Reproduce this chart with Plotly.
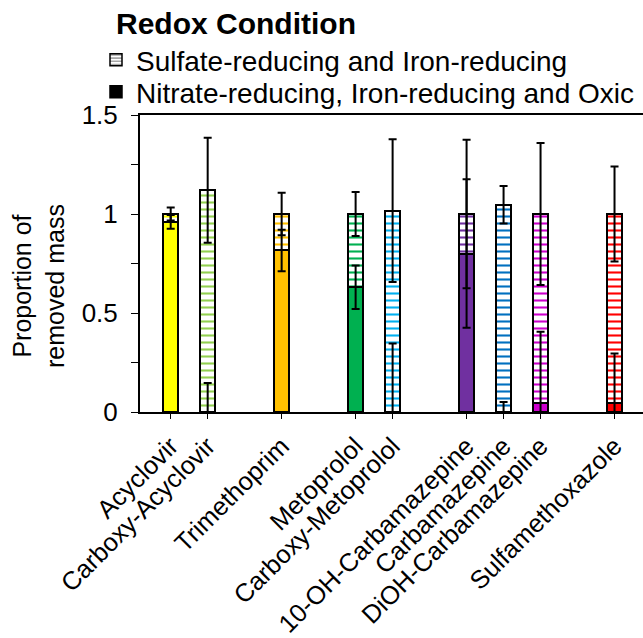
import numpy as np
import plotly.graph_objects as go

# ---- data ----
groups = [
    ["Acyclovir", "Carboxy-Acyclovir"],
    ["Trimethoprim"],
    ["Metoprolol", "Carboxy-Metoprolol"],
    ["10-OH-Carbamazepine", "Carbamazepine", "DiOH-Carbamazepine"],
    ["Sulfamethoxazole"],
]
compounds = [c for g in groups for c in g]

bar_colors = ["#FFFF00", "#92D050", "#FFC000", "#00B050", "#00B0F0",
              "#7030A0", "#0070C0", "#CC00CC", "#FF0000"]

# Nitrate-reducing, Iron-reducing and Oxic (solid, bottom)
nitrate_vals = [0.96, 0.0, 0.816, 0.63, 0.0, 0.80, 0.0, 0.045, 0.045]
nitrate_err = [0.035, 0.147, 0.105, 0.11, 0.346, 0.375, 0.05, 0.36, 0.25]

# Sulfate-reducing and Iron-reducing (hatched, top)
sulfate_vals = [0.04, 1.12, 0.184, 0.37, 1.017, 0.20, 1.047, 0.955, 0.955]
sulfate_err = [0.033, 0.265, 0.107, 0.111, 0.36, 0.375, 0.095, 0.358, 0.24]

y_ticks = [0, 0.5, 1, 1.5]
y_tick_text = ["0", "0.5", "1", "1.5"]

# category slots: one empty slot between groups
xpos = []
slot = 0
for g in groups:
    for _ in g:
        xpos.append(slot)
        slot += 1
    slot += 1

font_family = "Liberation Sans, Arial, sans-serif"

fig = go.Figure()

fig.add_trace(go.Bar(
    x=xpos, y=nitrate_vals, name="Nitrate-reducing, Iron-reducing and Oxic",
    marker=dict(color=bar_colors, line=dict(color="black", width=2)),
    showlegend=False,
))
fig.add_trace(go.Bar(
    x=xpos, y=sulfate_vals, name="Sulfate-reducing and Iron-reducing",
    marker=dict(color="white", line=dict(color="black", width=2),
                pattern=dict(shape="-", fgcolor=bar_colors, bgcolor="white",
                             size=7, solidity=0.3, fillmode="replace")),
    showlegend=False,
))

# error bars at the top of each stacked segment
tops_nitrate = np.array(nitrate_vals)
tops_total = np.array(nitrate_vals) + np.array(sulfate_vals)
for tops, err in [(tops_nitrate, nitrate_err), (tops_total, sulfate_err)]:
    fig.add_trace(go.Scatter(
        x=xpos, y=tops, mode="markers",
        marker=dict(size=1, color="rgba(0,0,0,0)"),
        error_y=dict(type="data", array=err, symmetric=True,
                     color="black", thickness=2, width=4),
        showlegend=False, hoverinfo="skip",
    ))

# legend entries
fig.add_trace(go.Bar(
    x=[None], y=[None], name="Sulfate-reducing and Iron-reducing",
    marker=dict(color="white", line=dict(color="black", width=1.5),
                pattern=dict(shape="-", fgcolor="black", bgcolor="white",
                             size=4, solidity=0.35)),
    legend="legend",
))
fig.add_trace(go.Bar(
    x=[None], y=[None], name="Nitrate-reducing, Iron-reducing and Oxic",
    marker=dict(color="black", line=dict(color="black", width=1.5)),
    legend="legend2",
))

leg_x = (96 - 140) / 503
fig.update_layout(
    barmode="stack",
    bargap=0.6,
    width=643, height=638,
    margin=dict(l=140, r=0, t=115, b=226, autoexpand=False),
    paper_bgcolor="white", plot_bgcolor="white",
    font=dict(family=font_family, size=25, color="black"),
    legend=dict(
        x=leg_x, xanchor="left", y=1 + (115 - 60) / 297, yanchor="middle",
        font=dict(size=28), bgcolor="rgba(0,0,0,0)",
        itemwidth=30, traceorder="normal",
    ),
    legend2=dict(
        x=leg_x, xanchor="left", y=1 + (115 - 92) / 297, yanchor="middle",
        font=dict(size=28), bgcolor="rgba(0,0,0,0)",
        itemwidth=30,
    ),
    showlegend=True,
)

fig.update_xaxes(
    range=[-0.83, 12.77],
    tickvals=xpos, ticktext=compounds, tickangle=-45,
    tickfont=dict(size=25.5),
    ticklabelstandoff=2,
    automargin=False,
    showline=True, linecolor="black", linewidth=2, mirror=True,
    ticks="outside", ticklen=5, tickcolor="black", tickwidth=1,
    showgrid=False, zeroline=False,
)
fig.update_yaxes(
    range=[0, 1.5],
    tickvals=y_ticks, ticktext=y_tick_text, tickfont=dict(size=26),
    automargin=False,
    showline=True, linecolor="black", linewidth=2,
    ticks="outside", ticklen=7, tickcolor="black", tickwidth=1,
    minor=dict(dtick=0.25, ticks="outside", ticklen=7, tickcolor="black", tickwidth=1),
    ticklabelstandoff=8,
    showgrid=False, zeroline=False,
)

# legend heading
fig.add_annotation(
    text="<b>Redox Condition</b>",
    xref="paper", yref="paper", x=(114 - 140) / 503, y=1 + (115 - 24) / 297,
    xanchor="left", yanchor="middle", showarrow=False,
    font=dict(size=30),
)

fig.add_annotation(
    text="Proportion of<br>removed mass", textangle=-90,
    xref="paper", yref="paper", x=(38 - 140) / 503, y=(412 - 286) / 297,
    xanchor="center", yanchor="middle", showarrow=False,
    font=dict(size=25),
)

fig.write_html("out.html")
